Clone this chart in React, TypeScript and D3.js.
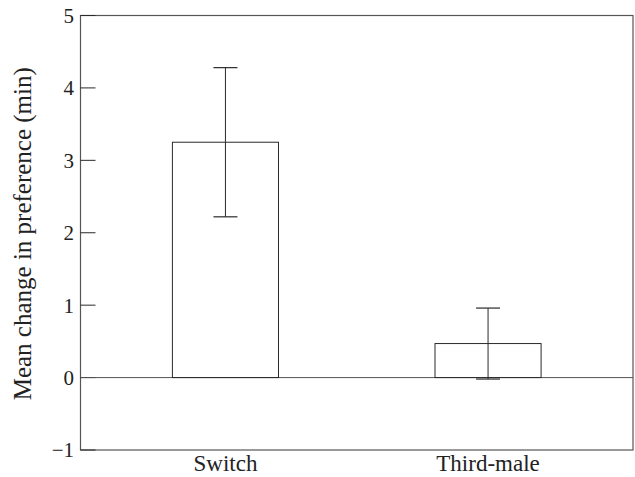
import React from "react";
import * as d3 from "d3";

const categories = ["Switch", "Third-male"];
const means = [3.25, 0.47];
const errLow = [2.22, -0.02];
const errHigh = [4.28, 0.96];
const yTicks = [-1, 0, 1, 2, 3, 4, 5];

const W = 635, H = 477;
const left = 80.5, right = 633, top = 15.5, bottom = 450;

export default function App() {
  const y = d3.scaleLinear().domain([-1, 5]).range([bottom, top]);
  const x = d3.scaleBand<string>().domain(categories).range([left, right]).paddingInner(0.596).paddingOuter(0.35);
  const bw = x.bandwidth();
  const font = "'Liberation Serif', 'Times New Roman', serif";
  const stroke = "#2a2a2a";
  return (
    <svg width={W} height={H} style={{ position: "absolute", left: 0, top: 0, background: "#fff" }}>
      <rect x={left} y={top} width={right - left} height={bottom - top} fill="none" stroke="#555" strokeWidth={1.2} />
      {yTicks.map((t) => (
        <g key={t}>
          <line x1={left} x2={left + 15} y1={y(t)} y2={y(t)} stroke={stroke} strokeWidth={1} />
          <text x={74} y={y(t)} dy="0.35em" textAnchor="end" fontFamily={font} fontSize={21} fill="#222">
            {t < 0 ? "\u2212" + Math.abs(t) : t}
          </text>
        </g>
      ))}
      <line x1={left} x2={right} y1={y(0)} y2={y(0)} stroke="#555" strokeWidth={1} />
      {categories.map((c, i) => {
        const cx = (x(c) as number) + bw / 2;
        return (
          <g key={c}>
            <rect x={x(c)} y={y(means[i])} width={bw} height={y(0) - y(means[i])} fill="none" stroke={stroke} strokeWidth={1} />
            <line x1={cx} x2={cx} y1={y(errLow[i])} y2={y(errHigh[i])} stroke={stroke} strokeWidth={1} />
            <line x1={cx - 12} x2={cx + 12} y1={y(errHigh[i])} y2={y(errHigh[i])} stroke={stroke} strokeWidth={1.2} />
            <line x1={cx - 12} x2={cx + 12} y1={y(errLow[i])} y2={y(errLow[i])} stroke={stroke} strokeWidth={1.2} />
            <text x={cx} y={471} textAnchor="middle" fontFamily={font} fontSize={23} fill="#222">{c}</text>
          </g>
        );
      })}
      <text transform={`translate(31,${(top + bottom) / 2 + 1}) rotate(-90)`} textAnchor="middle" fontFamily={font} fontSize={25} fill="#222">
        Mean change in preference (min)
      </text>
    </svg>
  );
}
